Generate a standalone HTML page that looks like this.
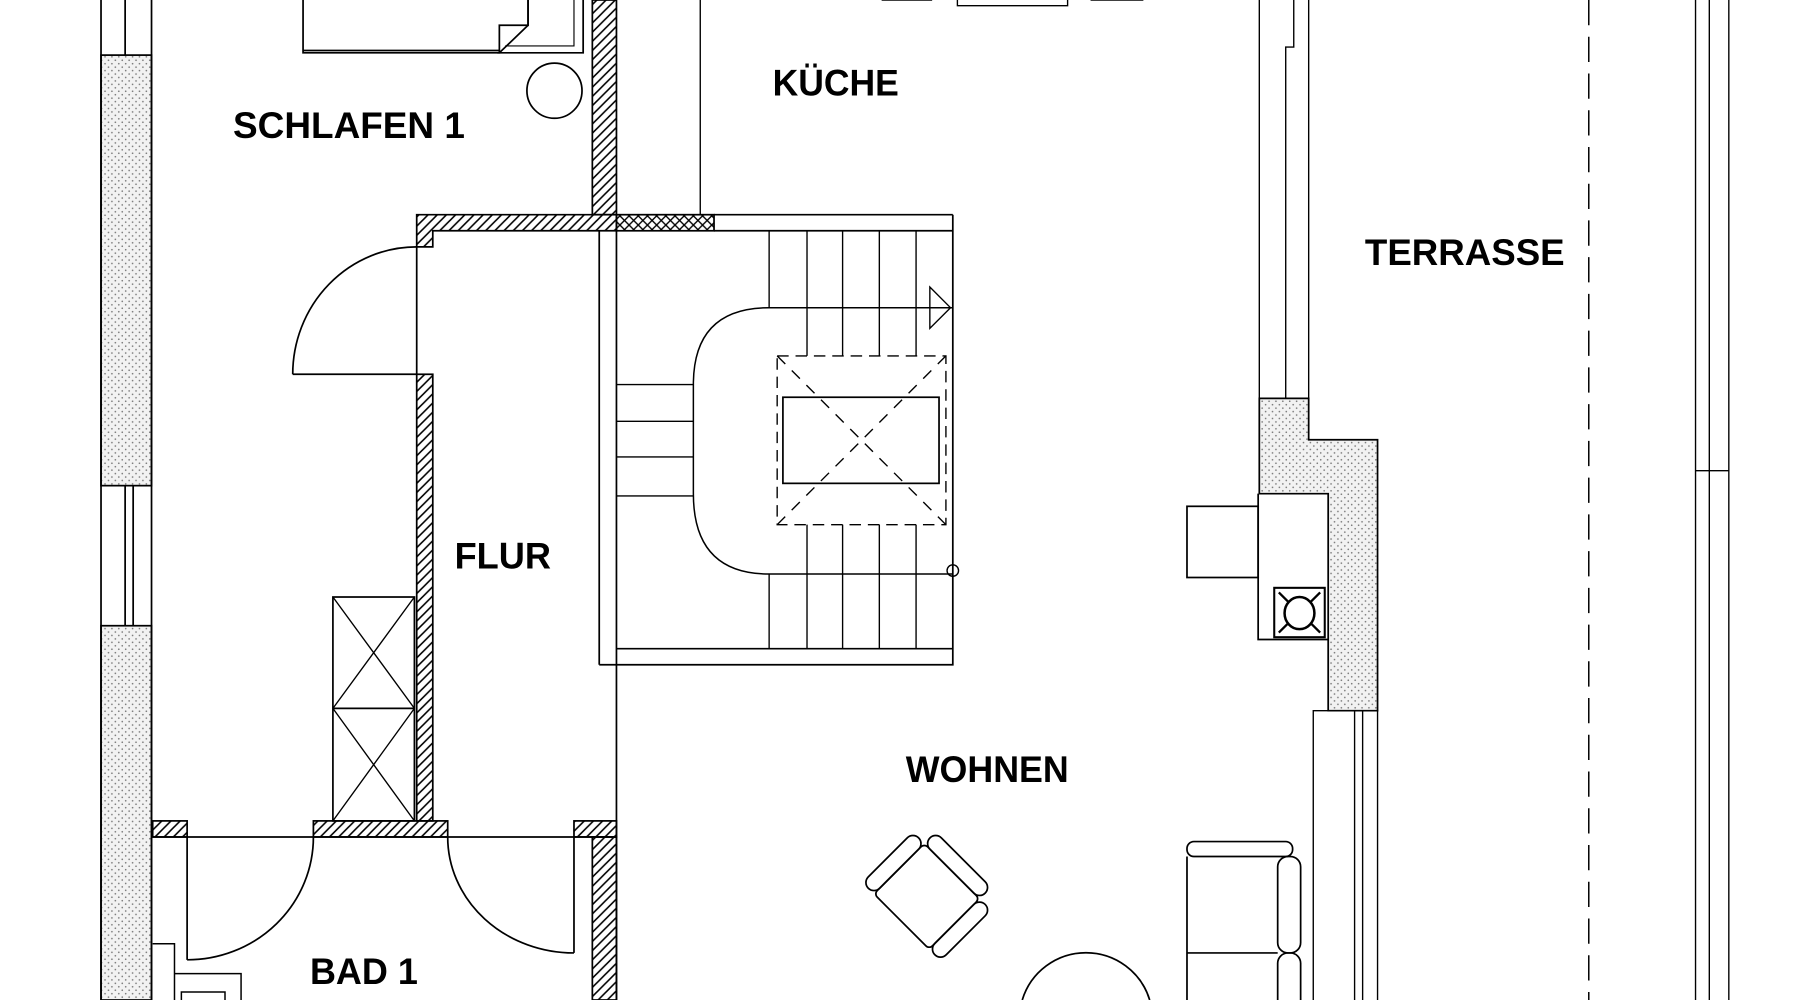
<!DOCTYPE html>
<html><head><meta charset="utf-8"><style>html,body{margin:0;padding:0;background:#fff;width:1800px;height:1000px;overflow:hidden}svg{display:block}</style></head><body>
<svg width="1800" height="1000" viewBox="0 0 1568 871" preserveAspectRatio="none" xmlns="http://www.w3.org/2000/svg">
<defs>
<pattern id="h" width="8" height="8" patternUnits="userSpaceOnUse"><path d="M-2,10 L10,-2 M-2,2 L2,-2 M6,10 L10,6" stroke="#000" stroke-width="1.4"/></pattern>
<pattern id="x" width="8" height="8" patternUnits="userSpaceOnUse"><path d="M-2,10 L10,-2 M-2,-2 L10,10 M-2,2 L2,-2 M6,10 L10,6 M-2,6 L2,10 M6,-2 L10,2" stroke="#000" stroke-width="1.2"/></pattern>
<pattern id="s" width="6" height="6" patternUnits="userSpaceOnUse"><rect width="6" height="6" fill="#f2f2f2"/><circle cx="1.5" cy="1.5" r="0.7" fill="#777"/><circle cx="4.5" cy="4.5" r="0.7" fill="#777"/></pattern>
</defs>
<g fill="none" stroke="#000" stroke-width="1.5">
<rect x="88" y="48" width="44" height="375" fill="url(#s)"/>
<rect x="88" y="545" width="44" height="326" fill="url(#s)"/>
<line x1="88" y1="0" x2="88" y2="871"/><line x1="132" y1="0" x2="132" y2="871"/>
<line x1="109" y1="0" x2="109" y2="48"/>
<line x1="109" y1="423" x2="109" y2="545"/><line x1="116" y1="423" x2="116" y2="545"/>
<path d="M264,0 V46 H435 V22 H460 V0"/><path d="M264,44 H435"/>
<path d="M460,0 V22 L435,46 H508 V0"/><path d="M500,0 V40 H440" stroke-width="1"/>
<circle cx="483" cy="79" r="24"/>
<rect x="516" y="0" width="21" height="187" fill="url(#h)"/>
<line x1="610" y1="0" x2="610" y2="187" stroke-width="1.2"/>
<path d="M363,187 H537 V201 H377 V215 H363 Z" fill="url(#h)"/>
<rect x="537" y="187" width="85" height="14" fill="url(#x)"/>
<path d="M622,187 H830 M622,201 H830"/>
<line x1="363" y1="215" x2="363" y2="326"/>
<path d="M255,326 H363 M255,326 A108,111 0 0 1 363,215"/>
<rect x="363" y="326" width="14" height="389" fill="url(#h)"/>
<rect x="290" y="520" width="71" height="195"/><line x1="290" y1="617" x2="361" y2="617"/>
<path d="M290,520 L361,617 M361,520 L290,617 M290,617 L361,715 M361,617 L290,715" stroke-width="1.2"/>
<rect x="133" y="715" width="30" height="14" fill="url(#h)"/>
<rect x="273" y="715" width="117" height="14" fill="url(#h)"/>
<rect x="500" y="715" width="37" height="14" fill="url(#h)"/>
<line x1="133" y1="729" x2="537" y2="729"/>
<rect x="516" y="729" width="21" height="142" fill="url(#h)"/>
<path d="M163,729 V836 M163,836 A110,107 0 0 0 273,729"/>
<path d="M500,729 V830 M390,729 A110,101 0 0 0 500,830"/>
<path d="M133,822 H152 V871 M152,848 H210 V871 M158,871 V864 H196 V871" stroke-width="1.3"/>
<line x1="522" y1="201" x2="522" y2="579"/><line x1="537" y1="201" x2="537" y2="871"/>
<path d="M522,579 H830 V187"/><line x1="537" y1="565" x2="830" y2="565"/>
<path d="M670,201 V268 M703,201 V310 M734,201 V310 M766,201 V310 M798,201 V310 M670,500 V565 M703,457 V565 M734,457 V565 M766,457 V565 M798,457 V565" stroke-width="1.2"/>
<path d="M670,268 H830 M670,268 Q604,268 604,335 V430 Q604,500 670,500 H830" stroke-width="1.3"/>
<path d="M537,335 H604 M537,367 H604 M537,398 H604 M537,432 H604" stroke-width="1.2"/>
<rect x="677" y="310" width="147" height="147" stroke-dasharray="10,6" stroke-width="1.2"/>
<rect x="682" y="346" width="136" height="75"/>
<path d="M677,310 L824,457 M824,310 L677,457" stroke-dasharray="10,8" stroke-width="1.2"/>
<path d="M810,250 L828,268 L810,286 Z" stroke-width="1.2"/>
<circle cx="830" cy="497" r="5" stroke-width="1.2"/>
<path d="M768,0 H812 M834,0 V5 H930 V0 M950,0 H996" stroke-width="1.2"/>
<path d="M1097,0 V347 M1140,0 V347 M1127,0 V41 H1120 V347" stroke-width="1.2"/>
<path d="M1097,347 H1140 V383 H1200 V619 H1157 V430 H1097 Z" fill="url(#s)"/>
<path d="M1096,430 V557 H1157"/>
<rect x="1034" y="441" width="62" height="62"/>
<rect x="1110" y="512" width="44" height="43" stroke-width="1.8"/>
<ellipse cx="1132" cy="534" rx="13" ry="14" stroke-width="2.2"/>
<path d="M1114,516 L1122,524 M1150,516 L1142,524 M1114,551 L1122,543 M1150,551 L1142,543" stroke-width="2"/>
<path d="M1144,871 V619 H1200 V871 M1180,619 V871 M1187,619 V871" stroke-width="1.2"/>
<rect x="1034" y="733" width="92" height="13" rx="6"/>
<rect x="1113" y="746" width="20" height="84" rx="9"/>
<path d="M1113,871 V839 A9,9 0 0 1 1122,830 H1124 A9,9 0 0 1 1133,839 V871"/>
<path d="M1034,746 V871 M1034,830 H1113"/>
<g transform="translate(808,780) rotate(45)">
<rect x="-34" y="-30" width="68" height="62" rx="4"/>
<rect x="-34" y="-44" width="68" height="14" rx="7"/>
<rect x="-48" y="-30" width="14" height="62" rx="7"/>
<rect x="34" y="-30" width="14" height="62" rx="7"/>
</g>
<path d="M890.5,871 A58,58 0 0 1 1001.5,871"/>
<line x1="1384" y1="0" x2="1384" y2="871" stroke-dasharray="22,10" stroke-width="1.3"/>
<path d="M1477,0 V871 M1489,0 V871 M1506,0 V871 M1477,410 H1506" stroke-width="1.2"/>
</g>
<g font-family="'Liberation Sans', sans-serif" font-weight="bold" font-size="32" fill="#000">
<text x="203" y="120" textLength="202" lengthAdjust="spacingAndGlyphs">SCHLAFEN 1</text>
<text x="673" y="83" textLength="110" lengthAdjust="spacingAndGlyphs">KÜCHE</text>
<text x="1189" y="231" textLength="174" lengthAdjust="spacingAndGlyphs">TERRASSE</text>
<text x="396" y="495" textLength="84" lengthAdjust="spacingAndGlyphs">FLUR</text>
<text x="789" y="681" textLength="142" lengthAdjust="spacingAndGlyphs">WOHNEN</text>
<text x="270" y="857" textLength="94" lengthAdjust="spacingAndGlyphs">BAD 1</text>
</g>
</svg>
</body></html>
